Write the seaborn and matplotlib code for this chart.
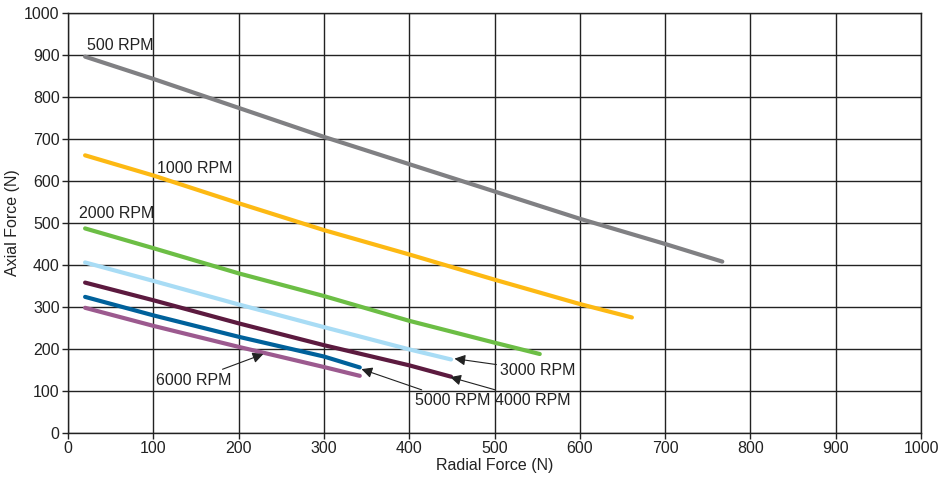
import numpy as np
import pandas as pd
import matplotlib.pyplot as plt
import seaborn as sns

# values (radial force N -> axial force N)
SERIES = ["500 RPM", "1000 RPM", "2000 RPM", "3000 RPM", "4000 RPM", "5000 RPM", "6000 RPM"]
RADIAL = {
    "500 RPM": [20, 100, 200, 300, 400, 500, 600, 700, 767],
    "1000 RPM": [20, 100, 200, 300, 400, 500, 600, 661],
    "2000 RPM": [20, 100, 200, 300, 400, 500, 553],
    "3000 RPM": [20, 100, 200, 300, 400, 449],
    "4000 RPM": [20, 100, 200, 300, 400, 449],
    "5000 RPM": [20, 100, 200, 300, 342],
    "6000 RPM": [20, 100, 200, 300, 342],
}
AXIAL = {
    "500 RPM": [896, 843, 774, 705, 640, 575, 510, 450, 408],
    "1000 RPM": [661, 613, 547, 483, 425, 365, 307, 275],
    "2000 RPM": [487, 440, 380, 326, 267, 215, 188],
    "3000 RPM": [406, 362, 306, 252, 199, 175],
    "4000 RPM": [358, 316, 261, 209, 161, 134],
    "5000 RPM": [324, 280, 229, 182, 156],
    "6000 RPM": [298, 255, 205, 157, 136],
}
COLORS = ["#808083", "#FDB913", "#6CBE45", "#A8DCF5", "#5C1A3F", "#00619B", "#9C5A8F"]

# plain labels (text, x, y) and arrowed labels (text, text x, text y, arrow tip x, tip y)
LABELS = [("500 RPM", 22, 905), ("1000 RPM", 104, 612), ("2000 RPM", 13, 505)]
ARROWS = [
    ("3000 RPM", 506, 149, 453, 177),
    ("4000 RPM", 501, 77, 448, 133),
    ("5000 RPM", 407, 77, 344, 152),
    ("6000 RPM", 103, 126, 229, 188),
]

rows = []
for s in SERIES:
    for x, y in zip(RADIAL[s], AXIAL[s]):
        rows.append({"series": s, "radial": x, "axial": y})
df = pd.DataFrame(rows)

sns.set_theme(style="white")
plt.rcParams["font.family"] = ["Liberation Sans", "DejaVu Sans"]
plt.rcParams["font.size"] = 11.5

fig = plt.figure(figsize=(9.41, 4.8), dpi=100)
ax = fig.add_axes([0.0723, 0.098, 0.9065, 0.875])

sns.lineplot(data=df, x="radial", y="axial", hue="series", hue_order=SERIES,
             palette=dict(zip(SERIES, COLORS)), linewidth=3, legend=False,
             sort=False, ax=ax)

ax.set_xlim(0, 1000)
ax.set_ylim(0, 1000)
ax.set_xticks(np.arange(0, 1001, 100))
ax.set_yticks(np.arange(0, 1001, 100))
ax.grid(True, color="#222222", linewidth=1)
ax.set_axisbelow(True)
for sp in ax.spines.values():
    sp.set_color("#222222")
    sp.set_linewidth(1)
ax.tick_params(direction="out", length=4, width=1, color="#222222",
               labelsize=11.5, labelcolor="#222222", pad=2, bottom=True, left=True)
ax.set_xlabel("Radial Force (N)", fontsize=11.5, color="#222222", labelpad=1)
ax.set_ylabel("Axial Force (N)", fontsize=11.5, color="#222222", labelpad=3)

for text, x, y in LABELS:
    ax.text(x, y, text, fontsize=11.5, color="#222222", ha="left", va="bottom")
for text, tx, ty, hx, hy in ARROWS:
    ax.annotate(text, xy=(hx, hy), xytext=(tx, ty), fontsize=11.5, color="#222222",
                ha="left", va="center",
                arrowprops=dict(arrowstyle="-|>", color="#222222", lw=0.8,
                                mutation_scale=16, shrinkA=0, shrinkB=0))

fig.savefig("out.png", dpi=100)
